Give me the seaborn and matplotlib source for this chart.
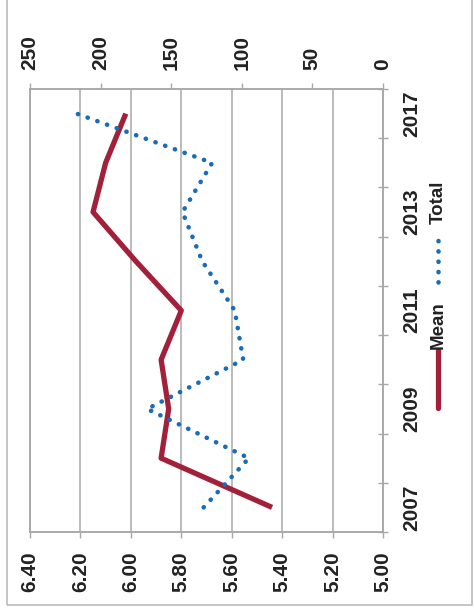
import numpy as np
import pandas as pd
import matplotlib
matplotlib.use('Agg')
import matplotlib.pyplot as plt
from matplotlib.lines import Line2D
from matplotlib.patches import Rectangle
import seaborn as sns

# 데이터
years = ['2007', '2008', '2009', '2010', '2011', '2012', '2013', '2015', '2017']
mean_values = [5.44, 5.88, 5.85, 5.88, 5.80, 5.98, 6.15, 6.10, 6.02]
total_values = [127, 95, 167, 99, 105, 128, 142, 121, 217]
shown_years = ['2007', '2009', '2011', '2013', '2017']
mean_ticks = [6.40, 6.20, 6.00, 5.80, 5.60, 5.40, 5.20, 5.00]
total_ticks = [250, 200, 150, 100, 50, 0]

sns.set_style('white')
plt.rcParams['font.family'] = ['Liberation Sans', 'DejaVu Sans']
plt.rcParams['font.weight'] = 'bold'

RED = '#A3203A'
BLUE = '#1A6DB5'
GRID = '#A8A8A8'
TEXT = '#222222'
DOTS = (0, (0.05, 2.2))

df = pd.DataFrame({'year': years, 'mean': mean_values, 'total': total_values})
df['pos'] = np.arange(len(df))

W, H = 474, 613
fig = plt.figure(figsize=(W / 100, H / 100), dpi=100)

# 바깥 테두리
fig.add_artist(Rectangle((7 / W, 1 - 605 / H), 465 / W, 605 / H + 0.05,
                         transform=fig.transFigure, fill=False,
                         edgecolor='#BBBBBB', linewidth=1.2))

ax = fig.add_axes([30 / W, 1 - 532 / H, 353 / W, 443 / H])
ax.set_facecolor('none')

# Mean (가로축: 6.40 -> 5.00)
sns.lineplot(data=df, x='mean', y='pos', orient='y', sort=False, estimator=None,
             ax=ax, color=RED, linewidth=3.8, solid_capstyle='butt', zorder=3)
ax.set_xlim(6.40, 5.00)
ax.set_ylim(-0.5, len(years) - 0.5)
ax.set_xticks(mean_ticks)
ax.set_xticklabels([f'{v:.2f}' for v in mean_ticks], rotation=90,
                   fontsize=15, fontweight='bold', color=TEXT)
ax.tick_params(axis='x', direction='out', length=4, width=1, color=GRID, pad=10)
ax.grid(True, axis='x', color=GRID, linewidth=1.1)
ax.grid(False, axis='y')

# 연도 축 (오른쪽)
ax.yaxis.tick_right()
ax.set_yticks([years.index(y) for y in shown_years])
ax.set_yticklabels(shown_years, rotation=90, va='center',
                   fontsize=15, fontweight='bold', color=TEXT)
ax.set_yticks(np.arange(-0.5, len(years), 1.0), minor=True)
ax.tick_params(axis='y', which='major', length=0, pad=14)
ax.tick_params(axis='y', which='minor', direction='inout', length=7, width=1, color=GRID)
ax.set_xlabel('')
ax.set_ylabel('')
for s in ax.spines.values():
    s.set_color(GRID)
    s.set_linewidth(1.1)

# Total (위쪽 축: 250 -> 0)
ax2 = ax.twiny()
sns.lineplot(data=df, x='total', y='pos', orient='y', sort=False, estimator=None,
             ax=ax2, color=BLUE, linewidth=3.3, linestyle=DOTS,
             dash_capstyle='round', zorder=4)
ax2.set_xlim(250, 0)
ax2.set_ylim(-0.5, len(years) - 0.5)
ax2.set_xticks(total_ticks)
ax2.set_xticklabels([str(v) for v in total_ticks], rotation=90,
                    fontsize=15, fontweight='bold', color=TEXT)
ax2.tick_params(axis='x', direction='out', length=4, width=1, color=GRID, pad=10)
ax2.set_xlabel('')
ax2.set_ylabel('')
for s in ax2.spines.values():
    s.set_color(GRID)
    s.set_linewidth(1.1)

# 범례 (세로 방향)
lx = 438 / W
fig.add_artist(Line2D([lx, lx], [1 - 408 / H, 1 - 350 / H], color=RED,
                      linewidth=3.8, transform=fig.transFigure))
fig.text(lx, 1 - 325 / H, 'Mean', rotation=90, ha='center', va='center',
         fontsize=13.5, fontweight='bold', color=TEXT)
fig.add_artist(Line2D([lx, lx], [1 - 282 / H, 1 - 232 / H], color=BLUE,
                      linewidth=3.3, linestyle=DOTS,
                      dash_capstyle='round', transform=fig.transFigure))
fig.text(lx, 1 - 202 / H, 'Total', rotation=90, ha='center', va='center',
         fontsize=13.5, fontweight='bold', color=TEXT)

fig.savefig('out.png', dpi=100)
